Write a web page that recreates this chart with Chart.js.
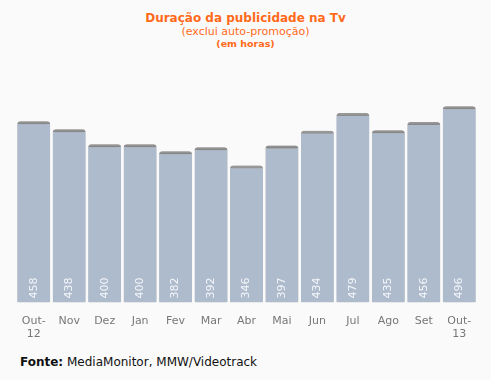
<!DOCTYPE html>
<html><head><meta charset="utf-8">
<script src="https://cdn.jsdelivr.net/npm/chart.js@4/dist/chart.umd.min.js"></script>
<style>
html,body{margin:0;padding:0;background:#fafafa;}
#wrap{position:relative;width:491px;height:380px;overflow:hidden;background:#fafafa;font-family:"DejaVu Sans",Verdana,sans-serif;}
#c{position:absolute;left:0;top:0;}
.t{position:absolute;left:0;width:491px;text-align:center;color:#ff6a1a;}
#t1{top:11px;font-size:12px;font-weight:bold;}
#t2{top:25px;font-size:11px;}
#t3{top:38px;font-size:9.5px;font-weight:bold;}
#foot{position:absolute;left:20px;top:355px;font-size:12px;color:#111;}
</style></head>
<body><div id="wrap">
<div class="t" id="t1">Duração da publicidade na Tv</div>
<div class="t" id="t2">(exclui auto-promoção)</div>
<div class="t" id="t3">(em horas)</div>
<canvas id="c" width="491" height="345"></canvas>
<div id="foot"><b>Fonte:</b> MediaMonitor, MMW/Videotrack</div>
</div>
<script>
const categories = [["Out-","12"],"Nov","Dez","Jan","Fev","Mar","Abr","Mai","Jun","Jul","Ago","Set",["Out-","13"]];
const hours = [458,438,400,400,382,392,346,397,434,479,435,456,496];

const valueLabels = {
  id:'valueLabels',
  afterDatasetsDraw(chart){
    const ctx = chart.ctx;
    const meta = chart.getDatasetMeta(0);
    ctx.save();
    ctx.fillStyle = '#f4f6fa';
    ctx.font = '11px "DejaVu Sans", Verdana, sans-serif';
    ctx.textAlign = 'left';
    ctx.textBaseline = 'middle';
    meta.data.forEach((bar,i)=>{
      ctx.save();
      ctx.translate(bar.x, bar.base - 4);
      ctx.rotate(-Math.PI/2);
      ctx.fillText(String(hours[i]), 0, 0);
      ctx.restore();
    });
    ctx.restore();
  }
};
const shadow = {
  id:'shadow',
  beforeDatasetsDraw(chart){
    const ctx = chart.ctx;
    ctx.save();
    ctx.shadowColor = 'rgba(0,0,0,0.32)';
    ctx.shadowBlur = 3;
    ctx.shadowOffsetX = 0;
    ctx.shadowOffsetY = 0;
  },
  afterDatasetsDraw(chart){ chart.ctx.restore(); }
};

new Chart(document.getElementById('c'), {
  type:'bar',
  data:{labels:categories, datasets:[{
    data:hours,
    backgroundColor:'#aebbcc',
    borderColor:'#9a9a9a',
    borderWidth:{top:3,left:0,right:0,bottom:0},
    borderSkipped:false,
    borderRadius:{topLeft:3,topRight:3,bottomLeft:0,bottomRight:0},
    barPercentage:0.93,
    categoryPercentage:1
  }]},
  options:{
    responsive:false, animation:false,
    layout:{padding:{left:16,right:14,top:65,bottom:0}},
    plugins:{legend:{display:false},tooltip:{enabled:false},title:{display:false}},
    scales:{
      y:{display:false,min:0,max:600},
      x:{grid:{display:false},border:{display:false},
         ticks:{color:'#777',font:{family:'"DejaVu Sans", Verdana, sans-serif',size:11},padding:4,maxRotation:0,autoSkip:false}}
    }
  },
  plugins:[shadow,valueLabels]
});
</script>
</body></html>
